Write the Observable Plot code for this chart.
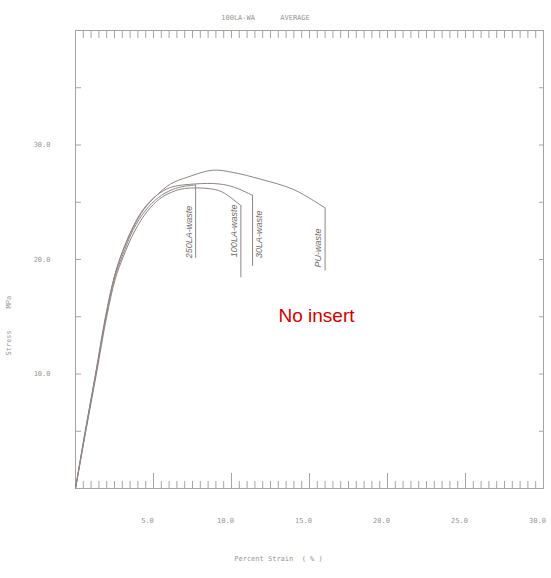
<!DOCTYPE html>
<html>
<head>
<meta charset="utf-8">
<script src="https://cdn.jsdelivr.net/npm/d3@7"></script>
<script src="https://cdn.jsdelivr.net/npm/@observablehq/plot@0.6"></script>
<style>
  body { margin: 0; background: #fff; }
</style>
</head>
<body>
<div id="chart"></div>
<script>
// Average stress–strain curves, 100LA-WA series, one curve per waste filler
const specimens = ["250LA-waste", "100LA-waste", "30LA-waste", "PU-waste"];

const strain250 = [0, 0.63, 1.30, 1.95, 2.50, 3.00, 3.70, 4.50, 5.30, 6.20, 7.00, 7.70];
const stress250 = [0, 5.0, 10.0, 15.0, 18.4, 20.3, 22.6, 24.3, 25.4, 26.1, 26.4, 26.5];

const strain100 = [0, 0.66, 1.34, 2.00, 2.55, 3.05, 3.80, 4.60, 5.40, 6.20, 7.00, 8.50, 9.40, 10.60];
const stress100 = [0, 5.0, 10.0, 15.0, 18.3, 20.2, 22.5, 24.2, 25.3, 25.9, 26.2, 26.2, 25.9, 24.7];

const strain30 = [0, 0.62, 1.28, 1.92, 2.45, 2.90, 3.60, 4.30, 5.20, 6.10, 7.70, 9.20, 10.20, 11.35];
const stress30 = [0, 5.0, 10.0, 15.0, 18.3, 20.3, 22.6, 24.3, 25.6, 26.3, 26.6, 26.6, 26.3, 25.6];

const strainPU = [0, 0.65, 1.30, 1.95, 2.50, 3.00, 3.70, 4.40, 5.20, 6.10, 7.20, 8.80, 10.10, 11.90, 14.00, 16.00];
const stressPU = [0, 5.0, 10.0, 15.0, 18.5, 20.6, 22.8, 24.4, 25.6, 26.6, 27.2, 27.8, 27.6, 27.0, 26.1, 24.5];

// stress reached after the fracture drop, and where each handwritten note sits
const fractureStress = [20.1, 18.4, 19.4, 19.0];
const noteStress = [22.4, 22.5, 22.2, 21.0];
// the 30LA note is written on the right-hand side of its drop line
const noteOnRight = ["30LA-waste"];

const xTickValues = [5, 10, 15, 20, 25, 30];
const yTickValues = [10, 20, 30];

const note = {text: "No insert", strain: 15.45, stress: 15.1};

const strains = [strain250, strain100, strain30, strainPU];
const stresses = [stress250, stress100, stress30, stressPU];

const curves = specimens.flatMap((name, i) =>
  strains[i].map((s, j) => ({name, strain: s, stress: stresses[i][j]}))
);
const drops = specimens.map((name, i) => ({
  name,
  strain: strains[i][strains[i].length - 1],
  top: stresses[i][stresses[i].length - 1],
  bottom: fractureStress[i]
}));
const notes = specimens.map((name, i) => ({
  name,
  strain: strains[i][strains[i].length - 1],
  stress: noteStress[i]
}));
const notesLeft = notes.filter(d => !noteOnRight.includes(d.name));
const notesRight = notes.filter(d => noteOnRight.includes(d.name));

const W = 551, H = 578;
const mL = 75, mR = 8, mT = 30, mB = 90;
const innerW = W - mL - mR, innerH = H - mT - mB;

const frameColor = "#aaa3a3";
const curveColor = "#8f8585";
const textColor = "#9a9595";

const minorX = d3.range(0.5, 30, 0.5);
const majorX = [5, 10, 15, 20, 25];
const yTicks = [5, 10, 15, 20, 25, 30, 35];

const noteStyle = {
  x: "strain", y: "stress", text: "name",
  rotate: -90, fontFamily: "'Liberation Sans', sans-serif",
  fontStyle: "italic", fontSize: 9, fill: "#6e6a6a"
};

const chart = Plot.plot({
  width: W,
  height: H,
  marginLeft: mL,
  marginRight: mR,
  marginTop: mT,
  marginBottom: mB,
  x: {domain: [0, 30]},
  y: {domain: [0, 40]},
  style: {
    fontFamily: "'DejaVu Sans Mono', monospace",
    fontSize: "7px",
    color: textColor,
    background: "#fff"
  },
  marks: [
    Plot.frame({stroke: frameColor}),
    // tick marks along the four sides of the frame
    Plot.ruleX(minorX, {insetBottom: innerH - 8, stroke: frameColor}),
    Plot.ruleX(minorX, {insetTop: innerH - 7, stroke: frameColor}),
    Plot.ruleX(majorX, {insetTop: innerH - 15, stroke: frameColor}),
    Plot.ruleY(yTicks, {insetRight: innerW - 6, stroke: frameColor}),
    Plot.ruleY(yTicks, {insetLeft: innerW - 4, stroke: frameColor}),
    Plot.axisX(xTickValues, {
      tickSize: 0, tickPadding: 30, dx: -6,
      tickFormat: d => d.toFixed(1), label: null, fill: textColor
    }),
    Plot.axisY(yTickValues, {
      tickSize: 0, tickPadding: 25,
      tickFormat: d => d.toFixed(1), label: null, fill: textColor
    }),
    // curves and the vertical fracture drops
    Plot.line(curves, {
      x: "strain", y: "stress", z: "name",
      curve: "catmull-rom", stroke: curveColor, strokeWidth: 1
    }),
    Plot.ruleX(drops, {x: "strain", y1: "top", y2: "bottom", stroke: curveColor, strokeWidth: 1}),
    Plot.text(notesLeft, {...noteStyle, dx: -7}),
    Plot.text(notesRight, {...noteStyle, dx: 7}),
    // title, axis titles
    Plot.text(["100LA-WA      AVERAGE"], {
      frameAnchor: "top", dx: -44, dy: -15, fill: textColor
    }),
    Plot.text(["Percent Strain  ( % )"], {
      frameAnchor: "bottom", dx: -31, dy: 72, fill: textColor
    }),
    Plot.text(["MPa"], {
      frameAnchor: "left", dx: -67, dy: 49, rotate: -90, fill: textColor
    }),
    Plot.text(["Stress"], {
      frameAnchor: "left", dx: -67, dy: 96, rotate: -90, fill: textColor
    }),
    Plot.text([note], {
      x: "strain", y: "stress", text: "text",
      fontFamily: "'Liberation Sans', Arial, sans-serif",
      fontSize: 19, fill: "#cc0000"
    })
  ]
});

document.getElementById("chart").appendChild(chart);
</script>
</body>
</html>
